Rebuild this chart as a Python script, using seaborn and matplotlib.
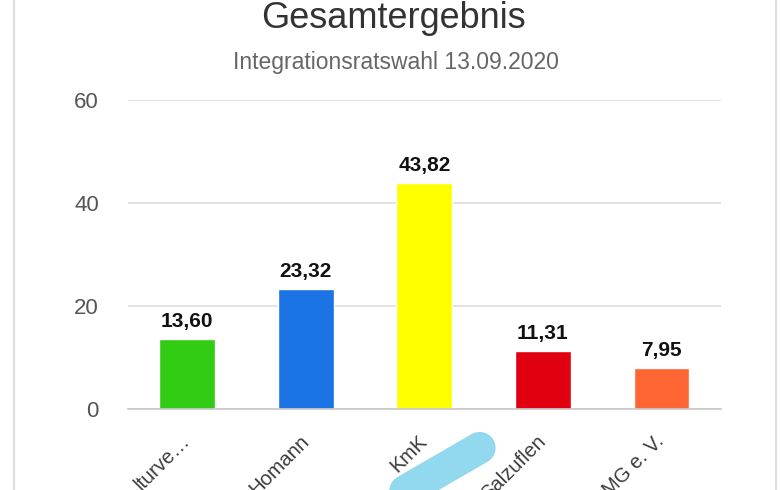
import numpy as np
import matplotlib
matplotlib.use("Agg")
import matplotlib.pyplot as plt
from matplotlib.lines import Line2D
import seaborn as sns

# Data
parties = ["lturve…", "Homann", "KmK", "Salzuflen", "MG e. V."]
votes = [13.60, 23.32, 43.82, 11.31, 7.95]
colors = ["#33cc14", "#1c74e4", "#ffff00", "#e1000f", "#ff6633"]
y_ticks = [0, 20, 40, 60]

sns.set_theme(style="white")
plt.rcParams['font.family'] = ['Liberation Sans', 'DejaVu Sans']

fig = plt.figure(figsize=(7.8, 4.9), dpi=100)
ax = fig.add_axes([0.164, 0.165, 0.760, 0.631])

sns.barplot(x=parties, y=votes, hue=parties, palette=colors, width=0.47,
            legend=False, ax=ax, saturation=1)

labels = [f"{v:.2f}".replace(".", ",") for v in votes]
for cont in ax.containers:
    ax.bar_label(cont, labels=[labels[int(round(b.get_x() + b.get_width() / 2))] for b in cont],
                 padding=6, fontsize=15, fontweight="bold", color="#111111")

ax.set_ylim(0, 60)
ax.set_xlim(-0.5, len(parties) - 0.5)
ax.set_yticks(y_ticks)
ax.yaxis.grid(True, color="#dddddd", linewidth=1.2)
ax.set_axisbelow(True)
ax.tick_params(axis="y", length=0, pad=21, labelsize=16, labelcolor="#555555")

# category labels + boundary ticks
ax.set_xticks(np.arange(len(parties)))
ax.set_xticklabels(parties, rotation=45, ha="right", va="center", rotation_mode="anchor",
                   fontsize=14.5, color="#3c3c3c")
ax.tick_params(axis="x", which="major", length=0, pad=21)
ax.set_xticks(np.arange(len(parties) + 1) - 0.5, minor=True)
ax.tick_params(axis="x", which="minor", length=16, width=1.2, color="#c8c8c8")

for side in ["top", "right", "left"]:
    ax.spines[side].set_visible(False)
ax.spines["bottom"].set_color("#c8c8c8")
ax.spines["bottom"].set_linewidth(1.2)
ax.set_xlabel("")
ax.set_ylabel("")

fig.text(0.505, 0.962, "Gesamtergebnis", ha="center", va="center",
         fontsize=26, color="#333333")
fig.text(0.507, 0.872, "Integrationsratswahl 13.09.2020", ha="center", va="center",
         fontsize=16.5, color="#666666")

# card borders
fig.add_artist(Line2D([0.018, 0.018], [0, 1], color="#dddddd", linewidth=1.5))
fig.add_artist(Line2D([0.995, 0.995], [0, 1], color="#dddddd", linewidth=1.5))

# blue scribble over a label
fig.add_artist(Line2D([0.500, 0.615], [-0.02, 0.086], color="#86d4ee", linewidth=23,
                      solid_capstyle="round", alpha=0.9))

fig.savefig("out.png", dpi=100)
